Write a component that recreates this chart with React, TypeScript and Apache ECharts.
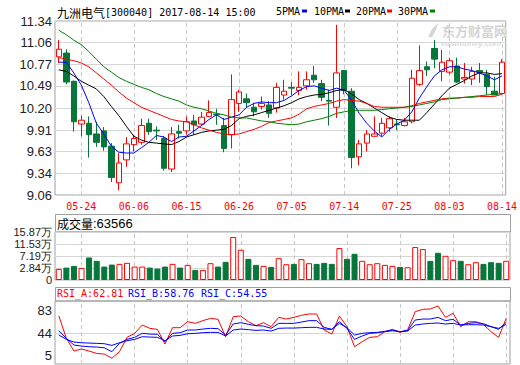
import React, { useEffect, useRef } from 'react';
import * as echarts from 'echarts';

const dates = ['05-19','05-22','05-23','05-24','05-25','05-26','05-31','06-01','06-02','06-05',
  '06-06','06-07','06-08','06-09','06-12','06-13','06-14','06-15','06-16','06-19',
  '06-20','06-21','06-22','06-23','06-26','06-27','06-28','06-29','06-30','07-03',
  '07-04','07-05','07-06','07-07','07-10','07-11','07-12','07-13','07-14','07-17',
  '07-18','07-19','07-20','07-21','07-24','07-25','07-26','07-27','07-28','07-31',
  '08-01','08-02','08-03','08-04','08-07','08-08','08-09','08-10','08-11','08-14'];
const tickLabels = ['05-24','06-06','06-15','06-26','07-05','07-14','07-25','08-03','08-14'];

const opens = [10.87,10.92,10.55,9.99,10.00,9.86,9.90,9.70,9.22,9.52, 9.72,9.75,10.00,9.91,9.80,9.40,9.89,9.90,10.03,9.99,
  10.09,10.12,9.97,9.85,10.26,10.32,10.21,10.22,10.24,10.20, 10.37,10.47,10.43,10.49,10.63,10.52,10.30,10.21,10.69,10.42,
  9.56,9.74,9.83,9.87,9.94,9.99,9.97,10.02,10.51,10.74, 10.98,10.68,10.67,10.75,10.58,10.58,10.69,10.64,10.42,10.39];
const closes = [10.97,10.54,10.02,10.04,9.85,9.75,9.69,9.29,9.48,9.73, 9.80,9.97,9.89,9.90,9.41,9.86,9.87,10.02,9.98,10.08,
  10.14,10.11,9.67,10.31,10.41,10.27,10.15,10.26,10.13,10.47, 10.42,10.46,10.47,10.57,10.57,10.34,10.29,10.66,10.43,9.55,
  9.73,9.86,9.86,10.00,10.06,9.98,10.02,10.59,10.69,10.70, 10.84,10.80,10.82,10.54,10.60,10.68,10.67,10.48,10.37,10.80];
const highs = [11.09,10.97,10.56,10.10,10.09,10.02,9.95,9.74,9.61,9.82, 9.85,10.06,10.06,9.96,9.83,9.95,9.98,10.09,10.11,10.15,
  10.30,10.19,10.07,10.64,10.44,10.39,10.27,10.35,10.29,10.53, 10.57,10.54,10.68,10.68,10.75,10.57,10.44,11.29,10.70,10.46,
  9.78,9.91,10.09,10.07,10.09,10.05,10.07,10.70,11.02,10.81, 11.09,10.96,10.86,10.86,10.79,10.74,10.79,10.70,10.61,10.84];
const lows = [10.79,10.51,9.89,9.83,9.55,9.69,9.64,9.23,9.12,9.43, 9.63,9.72,9.85,9.78,9.38,9.36,9.80,9.85,9.85,9.97,
  10.08,9.98,9.62,9.67,10.15,10.20,10.09,10.18,10.07,10.14, 10.31,10.37,10.37,10.44,10.53,10.29,9.97,10.07,10.38,9.41,
  9.45,9.63,9.82,9.83,9.89,9.91,9.96,10.00,10.49,10.62, 10.72,10.55,10.64,10.53,10.52,10.50,10.53,10.37,10.37,10.39];

const ma5 = [10.80,10.80,10.66,10.50,10.27,10.00,9.86,9.70,9.62,9.61, 9.61,9.68,9.75,9.84,9.82,9.76,9.82,9.83,9.90,9.97,
  10.05,10.11,10.05,10.08,10.11,10.21,10.26,10.28,10.27,10.27, 10.30,10.36,10.43,10.48,10.49,10.46,10.43,10.46,10.43,10.30,
  10.13,10.00,9.90,9.82,9.92,9.99,10.04,10.15,10.33,10.48, 10.62,10.70,10.74,10.74,10.71,10.69,10.66,10.62,10.57,10.62];
const ma10 = [10.70,10.68,10.62,10.55,10.50,10.45,10.35,10.22,10.10,9.96, 9.83,9.78,9.75,9.74,9.73,9.72,9.76,9.82,9.85,9.88,
  9.90,9.91,9.92,9.97,10.06,10.09,10.11,10.14,10.17,10.20, 10.23,10.27,10.32,10.35,10.37,10.38,10.40,10.43,10.44,10.38,
  10.31,10.26,10.20,10.14,10.08,10.05,10.04,10.04,10.04,10.14, 10.25,10.36,10.46,10.51,10.56,10.62,10.66,10.66,10.64,10.65];
const ma20 = [10.86,10.84,10.82,10.79,10.74,10.66,10.58,10.50,10.41,10.33, 10.27,10.21,10.17,10.13,10.09,10.05,10.03,10.02,9.98,9.94,
  9.91,9.88,9.86,9.85,9.86,9.89,9.92,9.96,10.01,10.03, 10.05,10.07,10.12,10.19,10.22,10.24,10.26,10.29,10.31,10.30,
  10.29,10.26,10.22,10.21,10.21,10.21,10.21,10.23,10.26,10.28, 10.30,10.32,10.33,10.33,10.34,10.34,10.35,10.35,10.35,10.38];
const ma30 = [11.22,11.16,11.09,11.03,10.94,10.84,10.74,10.67,10.60,10.55, 10.51,10.47,10.44,10.39,10.35,10.32,10.29,10.24,10.21,10.19,
  10.16,10.13,10.11,10.08,10.07,10.07,10.05,10.03,10.02,10.00, 9.99,9.98,9.99,10.02,10.04,10.06,10.09,10.13,10.15,10.17,
  10.17,10.17,10.17,10.18,10.19,10.20,10.21,10.22,10.24,10.26, 10.28,10.31,10.32,10.33,10.34,10.35,10.36,10.37,10.38,10.39];

const volumes = [3.67,4.1,4.67,4.0,7.44,6.33,4.44,5.1,5.33,5.67, 4.44,4.44,4.1,3.78,4.44,5.33,4.1,5.0,3.33,3.33,
  5.56,4.44,6.0,14.2,10.0,7.0,5.0,4.67,4.33,7.22, 5.22,5.33,6.89,5.56,5.33,5.67,5.33,10.56,7.0,8.67,
  6.33,5.22,5.56,5.0,4.67,4.33,4.22,10.89,10.22,6.33, 9.0,8.0,6.56,6.33,5.22,5.89,5.33,5.89,5.67,6.36];

const rsiA = [74.6,35.3,13.4,16.9,13.4,9.3,8.2,1.0,12.2,37.1, 44.0,58.4,52.7,50.9,25.5,53.8,53.8,64.2,61.3,66.0,
  70.0,68.3,38.2,72.9,74.0,64.2,57.3,62.5,55.6,71.7, 68.8,71.7,75.2,77.5,77.5,49.8,42.8,74.0,55.6,20.9,
  29.6,37.1,38.2,46.9,50.9,45.7,49.8,81.5,85.6,86.2, 91.4,71.7,78.7,55.6,64.2,64.2,59.6,46.9,37.1,70.0];
const rsiB = [48.6,35.3,23.8,22.0,20.9,20.3,19.1,12.2,26.7,33.6, 37.1,44.0,42.8,42.3,29.6,44.0,45.2,49.8,49.8,51.5,
  52.7,52.1,41.1,60.2,62.5,59.6,57.3,56.7,52.7,61.3, 61.3,61.3,63.6,66.0,66.0,54.4,50.9,64.2,52.7,33.6,
  39.4,44.0,45.2,47.5,49.8,46.9,49.2,67.1,68.8,68.8, 71.7,66.0,68.3,58.4,61.3,62.5,60.8,55.6,50.9,63.1];
const rsiC = [41.1,33.6,29.0,27.8,27.2,26.7,26.1,23.2,27.8,31.3, 33.6,38.2,37.6,37.1,31.3,39.4,40.5,43.4,44.0,45.2,
  45.7,45.7,39.4,49.8,51.5,50.4,49.2,49.8,48.0,52.7, 53.2,53.2,53.8,54.4,54.4,51.5,50.9,61.3,53.8,41.1,
  44.0,45.2,45.7,46.9,48.6,46.9,48.0,58.4,60.2,61.3, 61.9,60.2,61.3,58.4,59.0,59.0,58.4,55.6,52.7,59.6];

const priceTicks = [9.06, 9.34, 9.63, 9.91, 10.20, 10.49, 10.77, 11.06, 11.34];
const volTickLabels = ['0', '2.84万', '7.19万', '11.53万', '15.87万'];
const volMax = 15.87;
const rsiTicks = [5, 44, 83];
const rsiGridTicks = [44];

const RED = '#ff0000';
const GREEN = '#06763a';
const BORDER = '#a0a0a0';
const GRIDC = '#d6d6d6';
const MONO = '"DejaVu Sans Mono", monospace';

export default function App() {
  const ref = useRef<HTMLDivElement>(null);
  useEffect(() => {
    document.body.style.margin = '0';
    const chart = echarts.init(ref.current!, null, { renderer: 'svg' });
    const vline = {
      silent: true,
      symbol: ['none', 'none'],
      z: 1,
      label: { show: false },
      lineStyle: { type: [4, 3], color: '#c8c8c8', width: 1 },
      data: tickLabels.map((d) => ({ xAxis: d })),
    };
    const volStep = volMax / (volTickLabels.length - 1);
    const volTickValues = volTickLabels.map((_, i) => i * volStep);
    const xAxisBase = (g: number) => ({
      type: 'category',
      gridIndex: g,
      data: dates,
      boundaryGap: true,
      axisLine: { show: false },
      axisTick: { show: false },
      splitLine: { show: false },
      axisLabel: g === 0
        ? { show: true, interval: (_i: number, v: string) => tickLabels.includes(v), color: RED, fontFamily: MONO, fontSize: 10, margin: 6 }
        : { show: false },
    });
    const maLine = (name: string, data: number[], color: string) => ({
      name, type: 'line', xAxisIndex: 0, yAxisIndex: 0, data, symbol: 'none', silent: true,
      lineStyle: { width: 1, color }, itemStyle: { color },
    });
    const rsiLine = (name: string, data: number[], color: string, extra: any = {}) => ({
      name, type: 'line', xAxisIndex: 2, yAxisIndex: 2, data, symbol: 'none', silent: true,
      lineStyle: { width: 1, color }, itemStyle: { color }, ...extra,
    });
    const labelFont = { color: '#222', fontSize: 13, fontFamily: '"Liberation Sans", Arial, sans-serif' };

    const option: any = {
      animation: false,
      backgroundColor: '#ffffff',
      grid: [
        { left: 55, top: 21, width: 455, height: 174, show: true, borderColor: BORDER, borderWidth: 1 },
        { left: 55, top: 232, width: 455, height: 48, show: true, borderColor: BORDER, borderWidth: 1 },
        { left: 55, top: 301, width: 455, height: 63, show: true, borderColor: BORDER, borderWidth: 1 },
      ],
      xAxis: [xAxisBase(0), xAxisBase(1), xAxisBase(2)],
      yAxis: [
        {
          type: 'value', gridIndex: 0, min: 9.06, max: 11.34,
          axisLine: { show: false },
          axisTick: { show: false, customValues: priceTicks },
          axisLabel: { ...labelFont, customValues: priceTicks, margin: 3, showMinLabel: true, showMaxLabel: true, formatter: (v: number) => v.toFixed(2) },
          splitLine: { show: true, lineStyle: { color: GRIDC, width: 1 } },
        },
        {
          type: 'value', gridIndex: 1, min: 0, max: volMax,
          axisLine: { show: false },
          axisTick: { show: false, customValues: volTickValues },
          axisLabel: {
            ...labelFont, fontSize: 11, lineHeight: 11, customValues: volTickValues, margin: 3,
            showMinLabel: true, showMaxLabel: true, hideOverlap: false,
            formatter: (v: number) => volTickLabels[Math.round(v / volStep)] ?? '',
          },
          splitLine: { show: true, lineStyle: { color: GRIDC, width: 1 } },
        },
        {
          type: 'value', gridIndex: 2, min: -9, max: 100,
          axisLine: { show: false },
          axisTick: { show: false, customValues: rsiTicks },
          axisLabel: { ...labelFont, customValues: rsiTicks, margin: 3, showMinLabel: true, showMaxLabel: true },
          splitLine: { show: false },
        },
        {
          type: 'value', gridIndex: 2, min: -9, max: 100, position: 'left',
          axisLine: { show: false },
          axisTick: { show: false, customValues: rsiGridTicks },
          axisLabel: { show: false, customValues: rsiGridTicks },
          splitLine: { show: true, lineStyle: { color: GRIDC, width: 1 } },
        },
      ],
      series: [
        {
          name: 'K', type: 'candlestick', xAxisIndex: 0, yAxisIndex: 0, barWidth: 6, silent: true,
          data: dates.map((_, i) => [opens[i], closes[i], lows[i], highs[i]]),
          itemStyle: { color: '#ffffff', color0: GREEN, borderColor: RED, borderColor0: GREEN, borderWidth: 1 },
          markLine: vline,
        },
        maLine('5PMA', ma5, '#0000ff'),
        maLine('10PMA', ma10, '#000000'),
        maLine('20PMA', ma20, RED),
        maLine('30PMA', ma30, '#008000'),
        {
          name: '成交量', type: 'bar', xAxisIndex: 1, yAxisIndex: 1, barWidth: 6, silent: true,
          data: volumes.map((v, i) => {
            const up = closes[i] >= opens[i];
            return {
              value: v,
              itemStyle: up
                ? { color: '#ffffff', borderColor: RED, borderWidth: 1 }
                : { color: GREEN, borderColor: GREEN, borderWidth: 1 },
            };
          }),
          markLine: vline,
        },
        rsiLine('RSI_A', rsiA, RED, { markLine: vline }),
        rsiLine('RSI_B', rsiB, '#0000ff'),
        rsiLine('RSI_C', rsiC, '#0000ff'),
      ],
      graphic: [
        { type: 'text', x: 57, y: 12, style: { text: '九洲电气', font: '12px "Noto Sans CJK SC"', fill: '#000', verticalAlign: 'middle' } },
        { type: 'text', x: 105, y: 12, style: { text: '[300040] 2017-08-14 15:00', font: `10px ${MONO}`, fill: '#000', verticalAlign: 'middle' } },
        { type: 'text', x: 276, y: 11, style: { text: '5PMA', font: `10px ${MONO}`, fill: '#000', verticalAlign: 'middle' } },
        { type: 'rect', shape: { x: 302, y: 9.5, width: 5, height: 3 }, style: { fill: '#0000ff' } },
        { type: 'text', x: 314, y: 11, style: { text: '10PMA', font: `10px ${MONO}`, fill: '#000', verticalAlign: 'middle' } },
        { type: 'rect', shape: { x: 345, y: 9.5, width: 5, height: 3 }, style: { fill: '#000000' } },
        { type: 'text', x: 356, y: 11, style: { text: '20PMA', font: `10px ${MONO}`, fill: '#000', verticalAlign: 'middle' } },
        { type: 'rect', shape: { x: 387, y: 9.5, width: 5, height: 3 }, style: { fill: RED } },
        { type: 'text', x: 398, y: 11, style: { text: '30PMA', font: `10px ${MONO}`, fill: '#000', verticalAlign: 'middle' } },
        { type: 'rect', shape: { x: 430, y: 9.5, width: 5, height: 3 }, style: { fill: '#008000' } },
        // watermark
        { type: 'polygon', shape: { points: [[428, 37], [432, 29], [438, 23], [436, 30], [432, 37]] }, style: { fill: '#d4d4d4' } },
        { type: 'text', x: 442, y: 30.5, style: { text: '东方财富网', font: 'bold 13px "Noto Sans CJK SC"', lineHeight: 13, fill: '#d4d4d4', verticalAlign: 'middle' } },
        { type: 'text', x: 441, y: 43, style: { text: 'eastmoney.com', font: 'italic bold 8px "Liberation Sans"', lineHeight: 8, fill: '#dadada', verticalAlign: 'middle' } },
        // volume header
        { type: 'rect', shape: { x: 55.5, y: 214.5, width: 455, height: 17.5 }, style: { fill: 'none', stroke: BORDER, lineWidth: 1 } },
        { type: 'text', x: 57, y: 223.5, style: { text: '成交量', font: '12px "Noto Sans CJK SC"', fill: '#000', verticalAlign: 'middle' } },
        { type: 'text', x: 93, y: 223.5, style: { text: ':63566', font: '13px "Liberation Sans"', fill: '#000', verticalAlign: 'middle' } },
        // RSI header
        { type: 'rect', shape: { x: 55.5, y: 287.5, width: 455, height: 13.5 }, style: { fill: 'none', stroke: BORDER, lineWidth: 1 } },
        { type: 'text', x: 57, y: 293.5, style: { text: 'RSI_A:62.81', font: `10px ${MONO}`, fill: RED, verticalAlign: 'middle' } },
        { type: 'text', x: 128, y: 293.5, style: { text: 'RSI_B:58.76', font: `10px ${MONO}`, fill: '#0000ff', verticalAlign: 'middle' } },
        { type: 'text', x: 201, y: 293.5, style: { text: 'RSI_C:54.55', font: `10px ${MONO}`, fill: '#0000ff', verticalAlign: 'middle' } },
      ],
    };
    chart.setOption(option);
    return () => chart.dispose();
  }, []);
  return <div ref={ref} style={{ position: 'absolute', left: 0, top: 0, width: 520, height: 365 }} />;
}
